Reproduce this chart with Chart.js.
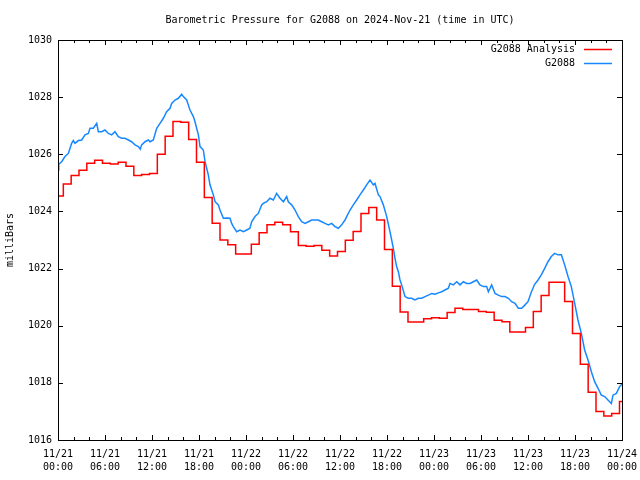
<!DOCTYPE html>
<html>
<head>
<meta charset="utf-8">
<script src="https://cdn.jsdelivr.net/npm/chart.js@4/dist/chart.umd.min.js"></script>
<style>
  body { margin: 0; background: #fff; }
  #wrap { width: 640px; height: 480px; }
</style>
</head>
<body>
<div id="wrap"><canvas id="myChart" width="640" height="480"></canvas></div>
<script>
// x axis: hours since 2024-11-21 00:00 UTC
const xTickLabels = [
  ["11/21", "00:00"], ["11/21", "06:00"], ["11/21", "12:00"], ["11/21", "18:00"],
  ["11/22", "00:00"], ["11/22", "06:00"], ["11/22", "12:00"], ["11/22", "18:00"],
  ["11/23", "00:00"], ["11/23", "06:00"], ["11/23", "12:00"], ["11/23", "18:00"],
  ["11/24", "00:00"],
];

// hourly analysis values, one per hour 00:00 .. 72:00 (each changes at ~hh:40)
const analysisValues = [
  1024.54, 1024.96, 1025.26, 1025.44, 1025.69, 1025.79, 1025.69, 1025.66, 1025.72, 1025.58,
  1025.26, 1025.29, 1025.33, 1026.00, 1026.63, 1027.15, 1027.12, 1026.52, 1025.72, 1024.49,
  1023.59, 1023.00, 1022.83, 1022.51, 1022.51, 1022.85, 1023.25, 1023.53, 1023.62, 1023.53,
  1023.29, 1022.81, 1022.78, 1022.81, 1022.64, 1022.44, 1022.60, 1022.99, 1023.30, 1023.93,
  1024.14, 1023.70, 1022.67, 1021.38, 1020.48, 1020.13, 1020.13, 1020.24, 1020.28, 1020.26,
  1020.46, 1020.61, 1020.57, 1020.57, 1020.50, 1020.47, 1020.19, 1020.14, 1019.78, 1019.78,
  1019.94, 1020.50, 1021.06, 1021.52, 1021.52, 1020.85, 1019.73, 1018.65, 1017.67, 1017.00,
  1016.84, 1016.93, 1017.35,
];
const analysisShift = -0.32; // hours: step happens before the full hour

// station observations (hours, mbar)
const obsHours = [
  0.0, 0.1, 0.47, 0.89, 1.32, 1.74, 1.96, 2.17, 2.6, 3.02, 3.45, 3.87, 4.09, 4.51, 4.94,
  5.15, 5.57, 6.0, 6.43, 6.85, 7.28, 7.7, 8.13, 8.55, 8.98, 9.4, 9.83, 10.26, 10.5, 10.68,
  11.11, 11.53, 11.74, 12.17, 12.6, 13.02, 13.45, 13.87, 14.3, 14.51, 14.94, 15.36, 15.79,
  16.0, 16.43, 16.64, 16.85, 17.28, 17.49, 17.7, 17.92, 18.13, 18.55, 18.77, 18.98, 19.19,
  19.4, 19.83, 20.05, 20.47, 20.68, 21.11, 21.53, 21.96, 22.17, 22.38, 22.81, 23.23, 23.66,
  24.09, 24.5, 24.72, 25.15, 25.57, 26.0, 26.21, 26.64, 27.06, 27.49, 27.91, 28.34, 28.77,
  29.19, 29.4, 29.83, 30.26, 30.68, 31.11, 31.53, 31.96, 32.38, 32.81, 33.23, 33.66, 34.09,
  34.51, 34.94, 35.36, 35.79, 36.21, 36.64, 36.85, 37.28, 37.7, 38.13, 38.55, 38.98, 39.4,
  39.83, 40.26, 40.47, 40.9, 41.11, 41.53, 41.96, 42.38, 42.81, 43.02, 43.23, 43.45, 43.66,
  43.87, 44.3, 44.72, 45.15, 45.57, 46.0, 46.43, 46.85, 47.28, 47.7, 48.13, 48.55, 48.98,
  49.4, 49.83, 50.04, 50.47, 50.9, 51.32, 51.75, 52.17, 52.6, 53.02, 53.45, 53.87, 54.3,
  54.72, 54.94, 55.36, 55.79, 56.21, 56.64, 57.06, 57.49, 57.91, 58.34, 58.77, 59.19, 59.62,
  60.0, 60.43, 60.85, 61.28, 61.7, 62.13, 62.55, 62.98, 63.4, 63.83, 64.26, 64.68, 65.11,
  65.53, 65.96, 66.38, 66.81, 67.23, 67.66, 68.09, 68.51, 68.94, 69.36, 69.79, 70.21, 70.64,
  70.85, 71.28, 71.7, 71.91, 72.0,
];
const obsValues = [
  1025.45, 1025.65, 1025.74, 1025.92, 1026.03, 1026.38, 1026.48, 1026.38, 1026.48, 1026.50, 1026.68, 1026.73, 1026.91, 1026.91, 1027.08,
  1026.79, 1026.79, 1026.85, 1026.73, 1026.68, 1026.79, 1026.62, 1026.56, 1026.56, 1026.50, 1026.44, 1026.33, 1026.27, 1026.18, 1026.33,
  1026.44, 1026.50, 1026.44, 1026.50, 1026.91, 1027.08, 1027.26, 1027.49, 1027.61, 1027.78, 1027.90, 1027.96, 1028.10,
  1028.02, 1027.90, 1027.72, 1027.55, 1027.32, 1027.14, 1026.91, 1026.68, 1026.27, 1026.15, 1025.74, 1025.51, 1025.28,
  1024.93, 1024.58, 1024.34, 1024.23, 1024.05, 1023.76, 1023.77, 1023.76, 1023.58, 1023.47, 1023.29, 1023.35, 1023.29,
  1023.35, 1023.41, 1023.64, 1023.82, 1023.93, 1024.23, 1024.28, 1024.34, 1024.46, 1024.40, 1024.63, 1024.46, 1024.34,
  1024.52, 1024.34, 1024.23, 1024.05, 1023.82, 1023.64, 1023.58, 1023.64, 1023.70, 1023.70, 1023.70, 1023.64, 1023.58,
  1023.53, 1023.58, 1023.47, 1023.41, 1023.53, 1023.70, 1023.82, 1024.05, 1024.23, 1024.40, 1024.58, 1024.75, 1024.93,
  1025.10, 1024.93, 1024.98, 1024.58, 1024.52, 1024.23, 1023.82, 1023.29, 1022.71, 1022.36, 1022.07, 1021.89, 1021.60,
  1021.43, 1021.02, 1020.96, 1020.96, 1020.90, 1020.96, 1020.96, 1021.02, 1021.07, 1021.13, 1021.10, 1021.15, 1021.19,
  1021.25, 1021.31, 1021.48, 1021.43, 1021.54, 1021.43, 1021.54, 1021.48, 1021.48, 1021.54, 1021.60, 1021.43, 1021.37,
  1021.37, 1021.19, 1021.43, 1021.13, 1021.07, 1021.02, 1021.02, 1020.96, 1020.84, 1020.78, 1020.61, 1020.61, 1020.73,
  1020.84, 1021.18, 1021.45, 1021.60, 1021.78, 1022.01, 1022.24, 1022.42, 1022.53, 1022.48, 1022.48, 1022.13, 1021.72,
  1021.37, 1020.78, 1020.20, 1019.73, 1019.15, 1018.80, 1018.39, 1018.04, 1017.81, 1017.57, 1017.52, 1017.40, 1017.28,
  1017.57, 1017.63, 1017.87, 1017.93, 1017.95,
];

const chartTitle = "Barometric Pressure for G2088 on 2024-Nov-21 (time in UTC)";
const FONT = "'DejaVu Sans Mono', 'Liberation Mono', monospace";

const analysisPoints = analysisValues.map((v, k) => ({ x: Math.max(0, k + analysisShift), y: v }));
analysisPoints.push({ x: 72, y: analysisValues[analysisValues.length - 1] });
const obsPoints = obsHours.map((h, i) => ({ x: h, y: obsValues[i] }));

// gnuplot style: title over plot, frame, inward tics on all four sides, key at top right
const framePlugin = {
  id: "frame",
  afterDraw(chart) {
    const { ctx, chartArea: a, scales } = chart;
    ctx.save();
    ctx.font = "10px " + FONT;
    ctx.fillStyle = "#000";
    ctx.textAlign = "center";
    ctx.textBaseline = "middle";
    ctx.fillText(chartTitle, (a.left + a.right) / 2, 20);

    ctx.strokeStyle = "#000";
    ctx.lineWidth = 1;
    ctx.strokeRect(a.left + 0.5, a.top + 0.5, a.right - a.left, a.bottom - a.top);
    ctx.beginPath();
    for (let h = 0; h <= 72; h += 2) {
      const x = Math.round(scales.x.getPixelForValue(h)) + 0.5;
      const len = h % 6 === 0 ? 5 : 3;
      ctx.moveTo(x, a.bottom); ctx.lineTo(x, a.bottom - len);
      ctx.moveTo(x, a.top); ctx.lineTo(x, a.top + len);
    }
    for (let v = 1016; v <= 1030; v += 2) {
      const y = Math.round(scales.y.getPixelForValue(v)) + 0.5;
      ctx.moveTo(a.left, y); ctx.lineTo(a.left + 5, y);
      ctx.moveTo(a.right, y); ctx.lineTo(a.right - 5, y);
    }
    ctx.stroke();

    ctx.textAlign = "right";
    chart.data.datasets.forEach((ds, i) => {
      const y = a.top + 9 + i * 14;
      ctx.fillText(ds.label, a.right - 47, y);
      ctx.strokeStyle = ds.borderColor;
      ctx.lineWidth = ds.borderWidth;
      ctx.beginPath();
      ctx.moveTo(a.right - 38, y + 0.5);
      ctx.lineTo(a.right - 10, y + 0.5);
      ctx.stroke();
    });
    ctx.restore();
  },
};

new Chart(document.getElementById("myChart"), {
  type: "line",
  data: {
    datasets: [
      {
        label: "G2088 Analysis",
        data: analysisPoints,
        borderColor: "#ff0000",
        borderWidth: 1.5,
        stepped: "before",
        pointRadius: 0,
      },
      {
        label: "G2088",
        data: obsPoints,
        borderColor: "#1688ff",
        borderWidth: 1.5,
        pointRadius: 0,
        tension: 0,
      },
    ],
  },
  options: {
    responsive: false,
    animation: false,
    devicePixelRatio: 1,
    layout: { padding: { top: 40, right: 18, left: 0, bottom: 0 } },
    plugins: {
      legend: { display: false },
      tooltip: { enabled: false },
      title: { display: false },
    },
    scales: {
      x: {
        type: "linear",
        min: 0,
        max: 72,
        grid: { display: false, drawTicks: false },
        border: { display: false },
        afterFit: (s) => { s.height = 40; s.paddingLeft = 0; s.paddingRight = 0; },
        ticks: {
          stepSize: 6,
          autoSkip: false,
          maxRotation: 0,
          padding: 8,
          color: "#000",
          font: { family: FONT, size: 10, lineHeight: 1.3 },
          callback: (v) => xTickLabels[v / 6],
        },
      },
      y: {
        min: 1016,
        max: 1030,
        grid: { display: false, drawTicks: false },
        border: { display: false },
        afterFit: (s) => { s.width = 58; s.paddingTop = 0; s.paddingBottom = 0; },
        ticks: {
          stepSize: 2,
          padding: 6,
          color: "#000",
          font: { family: FONT, size: 10 },
          callback: (v) => String(v),
        },
        title: {
          display: true,
          text: "milliBars",
          color: "#000",
          font: { family: FONT, size: 10 },
          padding: { top: 4, bottom: 0 },
        },
      },
    },
  },
  plugins: [framePlugin],
});
</script>
</body>
</html>
